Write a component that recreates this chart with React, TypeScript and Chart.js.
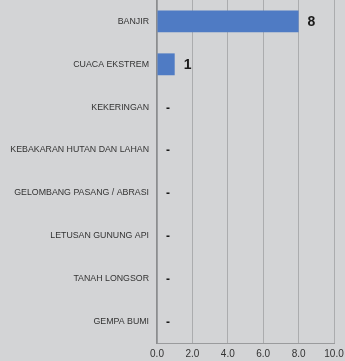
import React, { useEffect, useRef } from "react";
import { Chart, registerables } from "chart.js";

Chart.register(...registerables);

const categories = [
  "BANJIR",
  "CUACA EKSTREM",
  "KEKERINGAN",
  "KEBAKARAN HUTAN DAN LAHAN",
  "GELOMBANG PASANG / ABRASI",
  "LETUSAN GUNUNG API",
  "TANAH LONGSOR",
  "GEMPA BUMI",
];
const values = [8, 1, 0, 0, 0, 0, 0, 0];
const xTicks = [0, 2, 4, 6, 8, 10];

const labelPlugin = {
  id: "valueLabels",
  afterDatasetsDraw(chart: any) {
    const ctx = chart.ctx;
    const meta = chart.getDatasetMeta(0);
    ctx.save();
    ctx.textBaseline = "middle";
    ctx.textAlign = "left";
    ctx.fillStyle = "#1a1a1a";
    meta.data.forEach((bar: any, i: number) => {
      const v = values[i];
      if (v > 0) {
        ctx.font = "bold 14px 'Liberation Sans', Arial, sans-serif";
        ctx.fillText(String(v), bar.x + 9, bar.y + 1);
      } else {
        ctx.font = "bold 12px 'Liberation Sans', Arial, sans-serif";
        ctx.fillText("-", bar.x + 9, bar.y + 1);
      }
    });
    ctx.restore();
  },
};

export default function App() {
  const ref = useRef<HTMLCanvasElement>(null);
  useEffect(() => {
    document.body.style.margin = "0";
    document.body.style.background = "#d3d4d6";
    const chart = new Chart(ref.current!, {
      type: "bar",
      data: {
        labels: categories,
        datasets: [
          {
            data: values,
            backgroundColor: "#4f7bc4",
            borderWidth: 0,
            categoryPercentage: 1,
            barPercentage: 0.51,
          },
        ],
      },
      options: {
        indexAxis: "y",
        animation: false,
        responsive: false,
        maintainAspectRatio: false,
        layout: { padding: { top: 0, right: 11, bottom: 0, left: 0 } },
        plugins: { legend: { display: false }, tooltip: { enabled: false } },
        scales: {
          x: {
            min: 0,
            max: 10,
            afterBuildTicks: (scale: any) => {
              scale.ticks = xTicks.map((v) => ({ value: v }));
            },
            afterFit: (scale: any) => {
              scale.height = 18;
              scale.paddingLeft = 0;
              scale.paddingRight = 0;
            },
            grid: { color: "#abacae", lineWidth: 1, drawTicks: false },
            border: { display: true, color: "#9a9b9d", width: 1 },
            ticks: {
              padding: 5,
              color: "#333",
              font: { family: "'Liberation Sans', Arial, sans-serif", size: 10 },
              callback: (v: any) => Number(v).toFixed(1),
              maxRotation: 0,
            },
          },
          y: {
            afterFit: (scale: any) => {
              scale.width = 157;
              scale.paddingTop = 0;
              scale.paddingBottom = 0;
            },
            grid: { display: false, drawTicks: false },
            border: { display: true, color: "#8c8d8f", width: 1.5 },
            ticks: {
              padding: 8,
              color: "#333",
              font: { family: "'Liberation Sans', Arial, sans-serif", size: 8.8 },
            },
          },
        },
      },
      plugins: [labelPlugin],
    });
    return () => chart.destroy();
  }, []);
  return (
    <div style={{ width: 345, height: 361, background: "#d3d4d6" }}>
      <canvas ref={ref} width={345} height={361} />
    </div>
  );
}
